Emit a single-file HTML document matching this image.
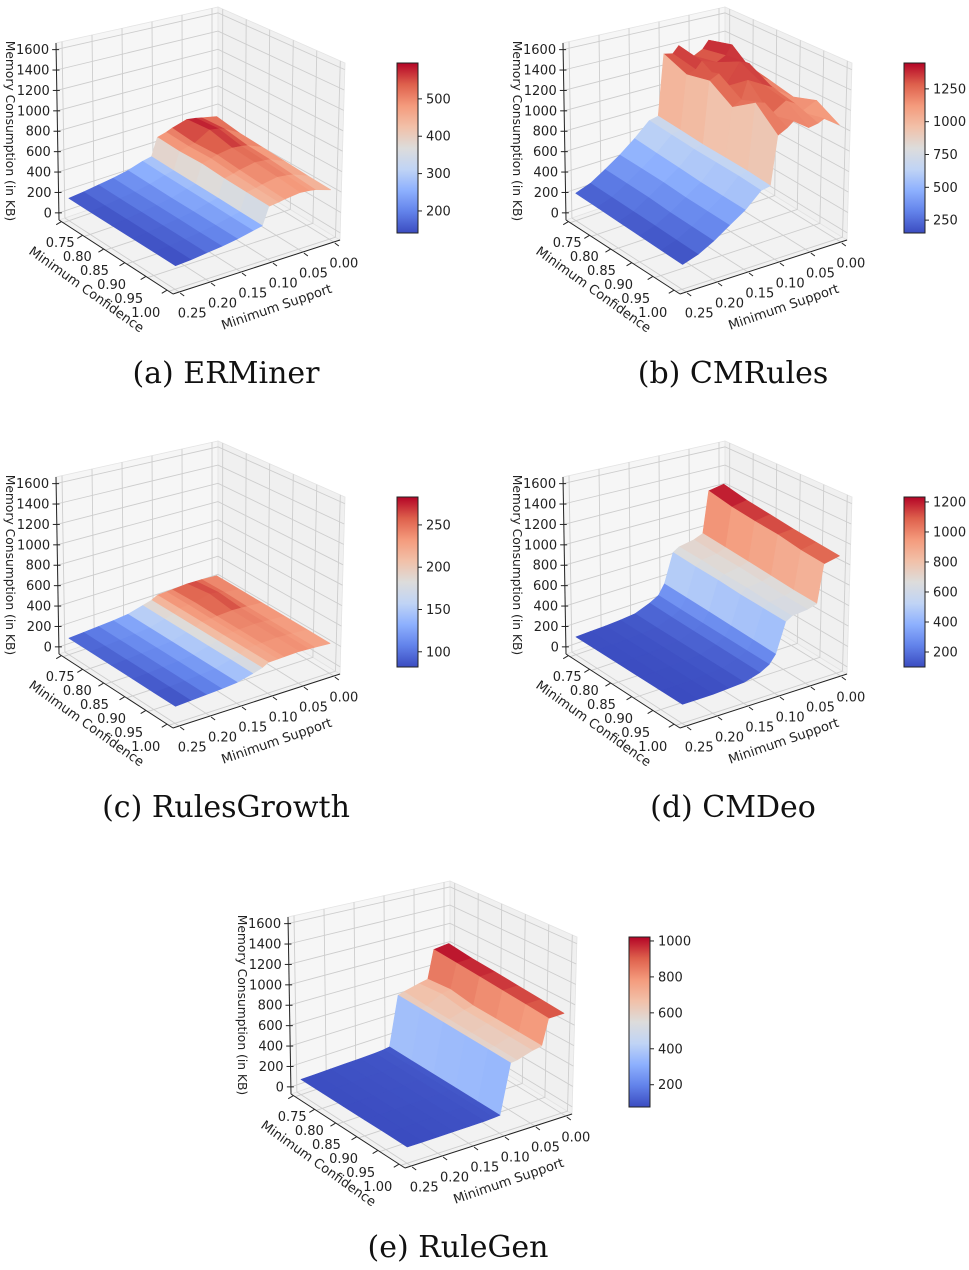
<!DOCTYPE html>
<html><head><meta charset="utf-8">
<style>
html,body{margin:0;padding:0;background:#fff;}
svg{display:block;}
text{font-family:"DejaVu Sans","Liberation Sans",sans-serif;fill:#222;}
.cap{font-family:"DejaVu Serif","Liberation Serif",serif;font-size:30px;fill:#111;}
</style></head>
<body>
<svg id="fig" width="969" height="1270" viewBox="0 0 969 1270" xmlns="http://www.w3.org/2000/svg">
<defs>
<linearGradient id="cw" x1="0" y1="1" x2="0" y2="0">
<stop offset="0" stop-color="rgb(59,76,192)"/>
<stop offset="0.125" stop-color="rgb(98,130,234)"/>
<stop offset="0.25" stop-color="rgb(141,176,254)"/>
<stop offset="0.375" stop-color="rgb(192,212,245)"/>
<stop offset="0.5" stop-color="rgb(221,220,219)"/>
<stop offset="0.625" stop-color="rgb(242,192,168)"/>
<stop offset="0.75" stop-color="rgb(244,154,124)"/>
<stop offset="0.875" stop-color="rgb(222,96,76)"/>
<stop offset="1" stop-color="rgb(180,4,38)"/>
</linearGradient>
</defs>
</svg>
<script>
// ---- data ----
const supports = [0, 0.025, 0.035, 0.05, 0.075, 0.085, 0.1, 0.11, 0.125, 0.15, 0.175, 0.2, 0.225, 0.25];
const confs = [0.75, 0.80, 0.85, 0.90, 0.95, 1.00];
const zTicks = [0, 200, 400, 600, 800, 1000, 1200, 1400, 1600];
const confTicks = [0.75, 0.80, 0.85, 0.90, 0.95, 1.00];
const confTickLabels = ['0.75', '0.80', '0.85', '0.90', '0.95', '1.00'];
const supTicks = [0.25, 0.20, 0.15, 0.10, 0.05, 0.00];
const supTickLabels = ['0.25', '0.20', '0.15', '0.10', '0.05', '0.00'];

const ermZ = [
 [510,545,560,575,530,505,480,300,280,235,205,185,165,150],
 [470,560,580,596,505,490,465,290,270,228,200,180,160,147],
 [455,520,530,540,515,495,470,285,265,222,198,178,158,145],
 [440,505,512,520,490,470,450,278,258,220,195,175,156,144],
 [425,480,490,500,470,455,440,270,250,215,190,172,155,143],
 [415,460,468,475,455,442,430,265,245,212,188,170,152,141]];
const cmrZ = [
 [1300,1380,1300,1250,1400,1330,1350,720,700,560,440,340,250,200],
 [1200,1447,1350,1300,1350,1280,1250,700,680,540,430,330,240,190],
 [1150,1250,1380,1420,1200,1350,1300,680,660,520,420,320,230,180],
 [1100,1200,1250,1300,1380,1200,1150,670,650,500,400,300,220,170],
 [1180,1100,1200,1250,1150,1280,1300,660,640,490,390,290,210,160],
 [1050,1150,1120,1100,1200,1150,1100,640,620,480,380,280,200,152]];
const rgZ = [
 [235,245,248,250,240,236,232,200,175,135,120,110,100,92],
 [232,250,270,283,245,238,230,198,172,132,118,108,98,90],
 [230,240,244,248,238,232,228,195,170,130,116,106,96,88],
 [228,236,240,244,236,230,226,192,168,128,114,104,94,86],
 [225,234,237,240,232,228,224,190,165,126,112,102,92,84],
 [222,230,233,236,230,226,222,188,162,124,110,100,90,82]];
const cmdZ = [
 [1233,1200,760,720,690,650,350,250,200,140,125,115,110,105],
 [1180,1150,740,700,680,630,340,240,190,135,122,112,108,104],
 [1150,1120,720,690,660,620,330,235,185,132,120,110,106,103],
 [1120,1100,700,670,650,600,320,230,180,130,118,108,104,102],
 [1100,1060,680,650,630,590,310,225,175,128,116,106,102,101],
 [1080,1040,670,640,620,580,300,220,170,125,114,104,100,100]];
const rgenZ = [
 [1022,1000,700,680,640,620,110,100,95,90,88,85,82,80],
 [990,980,720,700,620,610,108,99,94,89,87,84,81,79],
 [970,960,680,660,610,600,106,98,93,88,86,83,80,78],
 [950,940,670,650,600,590,104,97,92,87,85,82,79,77],
 [930,920,660,640,590,580,102,96,91,86,84,81,78,77],
 [910,900,650,630,580,570,100,95,90,85,83,80,77,76]];
const cbTicksA = [200, 300, 400, 500];
const cbTicksB = [250, 500, 750, 1000, 1250];
const cbTicksC = [100, 150, 200, 250];
const cbTicksD = [200, 400, 600, 800, 1000, 1200];
const cbTicksE = [200, 400, 600, 800, 1000];

// ---- geometry ----
const NS = 'http://www.w3.org/2000/svg';
const svg = document.getElementById('fig');
const C = {L0:[59,220],L1:[56,43],B0:[218,165],B1:[218,7],R0:[340,240],R1:[345,63],F0:[173,294],F1:[178,99]};
const CONF_MIN=0.74, CONF_MAX=1.01, SUP_MIN=-0.01, SUP_MAX=0.26, Z_MIN=-70, Z_MAX=1665;
function U(c){return (c-CONF_MIN)/(CONF_MAX-CONF_MIN);}
function V(s){return (SUP_MAX-s)/(SUP_MAX-SUP_MIN);}
function W(z){return (z-Z_MIN)/(Z_MAX-Z_MIN);}
function bil(L,F,R,B,u,v){
  return [(1-u)*(1-v)*L[0]+u*(1-v)*F[0]+u*v*R[0]+(1-u)*v*B[0],
          (1-u)*(1-v)*L[1]+u*(1-v)*F[1]+u*v*R[1]+(1-u)*v*B[1]];
}
function proj(u,v,w){
  const b=bil(C.L0,C.F0,C.R0,C.B0,u,v), t=bil(C.L1,C.F1,C.R1,C.B1,u,v);
  return [b[0]+(t[0]-b[0])*w, b[1]+(t[1]-b[1])*w];
}
const CW=[[0,59,76,192],[0.125,98,130,234],[0.25,141,176,254],[0.375,192,212,245],[0.5,221,220,219],[0.625,242,192,168],[0.75,244,154,124],[0.875,222,96,76],[1,180,4,38]];
function cmap(t){
  t=Math.max(0,Math.min(1,t));
  for(let i=0;i<CW.length-1;i++){
    const a=CW[i],b=CW[i+1];
    if(t<=b[0]){const f=(t-a[0])/(b[0]-a[0]);
      return 'rgb('+Math.round(a[1]+(b[1]-a[1])*f)+','+Math.round(a[2]+(b[2]-a[2])*f)+','+Math.round(a[3]+(b[3]-a[3])*f)+')';}
  }
  return 'rgb(180,4,38)';
}
function el(tag, parent, attrs){
  const e=document.createElementNS(NS,tag);
  for(const k in attrs) e.setAttribute(k,attrs[k]);
  parent.appendChild(e); return e;
}
function pts(arr){return arr.map(p=>p[0].toFixed(1)+','+p[1].toFixed(1)).join(' ');}

function drawPanel(key, grid, cbTicks, caption, ox, oy){
  const g=el('g',svg,{transform:'translate('+ox+','+oy+')'});
  
  
  const floor=el('polygon',g,{points:pts([C.L0,C.F0,C.R0,C.B0]),fill:'#f2f2f2',stroke:'#e4e4e4','stroke-width':0.8});
  
  
  const pl=el('polygon',g,{points:pts([C.L0,C.B0,C.B1,C.L1]),fill:'#f6f6f6',stroke:'#e4e4e4','stroke-width':0.8});
  
  
  const pr=el('polygon',g,{points:pts([C.B0,C.R0,C.R1,C.B1]),fill:'#f0f0f0',stroke:'#e4e4e4','stroke-width':0.8});
  
  
  const gg=el('g',g,{stroke:'#cdcdcd','stroke-width':0.9,fill:'none'});
  
  
  zTicks.forEach(z=>{
    const w=W(z);
    el('polyline',gg,{points:pts([proj(0,0,w),proj(0,1,w),proj(1,1,w)])});
  });
  supTicks.forEach(s=>{
    const v=V(s);
    el('polyline',gg,{points:pts([proj(1,v,0),proj(0,v,0),proj(0,v,1)])});
  });
  confTicks.forEach(c=>{
    const u=U(c);
    el('polyline',gg,{points:pts([proj(u,0,0),proj(u,1,0),proj(u,1,1)])});
  });
  const vals=[].concat(...grid);
  const vmin=Math.min(...vals), vmax=Math.max(...vals);
  const sg=el('g',g,{});
  
  
  const quads=[];
  for(let i=0;i<confs.length-1;i++){
    for(let j=0;j<supports.length-1;j++){
      const cs=[[i,j],[i+1,j],[i+1,j+1],[i,j+1]];
      const p=cs.map(([a,b])=>proj(U(confs[a]),V(supports[b]),W(grid[a][b])));
      const mz=cs.reduce((s,[a,b])=>s+grid[a][b],0)/4;
      const depth=(U(confs[i])+U(confs[i+1]))/2-(V(supports[j])+V(supports[j+1]))/2;
      quads.push({p,mz,depth});
    }
  }
  quads.sort((a,b)=>a.depth-b.depth);
  quads.forEach(q=>{
    const col=cmap((q.mz-vmin)/(vmax-vmin));
    const poly=el('polygon',sg,{points:pts(q.p),fill:col,stroke:col,'stroke-width':0.6,'stroke-linejoin':'round'});
    
    
  });
  const ax=el('g',g,{stroke:'#222','stroke-width':1,fill:'none'});
  
  
  el('line',ax,{x1:C.L0[0],y1:C.L0[1],x2:C.L1[0],y2:C.L1[1]});
  el('line',ax,{x1:C.L0[0],y1:C.L0[1],x2:C.F0[0],y2:C.F0[1]});
  el('line',ax,{x1:C.F0[0],y1:C.F0[1],x2:C.R0[0],y2:C.R0[1]});
  const tg=el('g',g,{'font-size':'13px'});
  
  
  zTicks.forEach(z=>{
    const p=proj(0,0,W(z));
    el('line',ax,{x1:p[0]-4,y1:p[1],x2:p[0]+3,y2:p[1]});
    const t=el('text',tg,{x:p[0]-7,y:p[1]+4.5,'text-anchor':'end'});
    t.textContent=String(z);
    
    
  });
  confTicks.forEach((c,k)=>{
    const p=proj(U(c),0,0), f=k/(confTicks.length-1);
    el('line',ax,{x1:p[0]-2,y1:p[1]-1,x2:p[0]-7,y2:p[1]+2});
    const t=el('text',tg,{x:p[0]-3-20*f,y:p[1]+20+f+4.5,'text-anchor':'middle'});
    t.textContent=confTickLabels[k];
    
    
  });
  supTicks.forEach((s,k)=>{
    const p=proj(1,V(s),0), f=k/(supTicks.length-1);
    el('line',ax,{x1:p[0]+1,y1:p[1]+1,x2:p[0]+5,y2:p[1]+4});
    const t=el('text',tg,{x:p[0]+13-3*f,y:p[1]+21+4.5,'text-anchor':'middle'});
    t.textContent=supTickLabels[k];
    
    
  });
  const zt=el('text',g,{x:0,y:0,'font-size':'12.3px','text-anchor':'middle',transform:'translate(6,131) rotate(90)'});
  zt.textContent='Memory Consumption (in KB)';
  
  
  const ct=el('text',g,{x:0,y:0,'font-size':'13px','text-anchor':'middle',transform:'translate(84,293) rotate(35.5)'});
  ct.textContent='Minimum Confidence';
  
  
  const st=el('text',g,{x:0,y:0,'font-size':'13px','text-anchor':'middle',transform:'translate(278,311) rotate(-19)'});
  st.textContent='Minimum Support';
  
  
  const cbx=397, cby=63, cbw=21, cbh=170;
  const cb=el('rect',g,{x:cbx,y:cby,width:cbw,height:cbh,fill:'url(#cw)',stroke:'#222','stroke-width':1});
  
  
  cbTicks.forEach(tv=>{
    const y=cby+cbh-(tv-vmin)/(vmax-vmin)*cbh;
    el('line',g,{x1:cbx+cbw,y1:y,x2:cbx+cbw+4,y2:y,stroke:'#222','stroke-width':1});
    const t=el('text',g,{x:cbx+cbw+8,y:y+4.5,'font-size':'13px'});
    t.textContent=String(tv);
    
    
  });
  const cap=el('text',g,{x:226,y:383,'text-anchor':'middle','class':'cap'});
  cap.textContent=caption;
  
  
}
drawPanel('erminer', ermZ, cbTicksA, '(a)  ERMiner', 0, 0);
drawPanel('cmrules', cmrZ, cbTicksB, '(b)  CMRules', 507, 0);
drawPanel('rulesgrowth', rgZ, cbTicksC, '(c)  RulesGrowth', 0, 434);
drawPanel('cmdeo', cmdZ, cbTicksD, '(d)  CMDeo', 507, 434);
drawPanel('rulegen', rgenZ, cbTicksE, '(e)  RuleGen', 232, 874);
</script>
</body></html>
